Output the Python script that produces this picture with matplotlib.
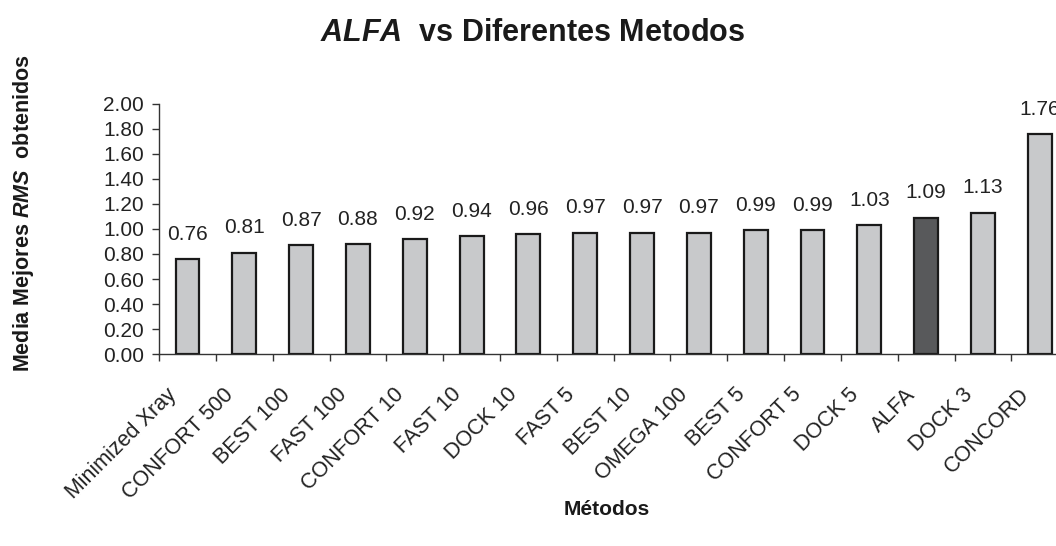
import numpy as np
import matplotlib
matplotlib.use("Agg")
from matplotlib import pyplot as plt
from matplotlib.ticker import FixedLocator, NullFormatter



# !Data
methods = ["Minimized Xray", "CONFORT 500", "BEST 100", "FAST 100", "CONFORT 10",
           "FAST 10", "DOCK 10", "FAST 5", "BEST 10", "OMEGA 100", "BEST 5",
           "CONFORT 5", "DOCK 5", "ALFA", "DOCK 3", "CONCORD"]
rms_mean = [0.76, 0.81, 0.87, 0.88, 0.92, 0.94, 0.96, 0.97, 0.97, 0.97, 0.99,
            0.99, 1.03, 1.09, 1.13, 1.76]
highlight = "ALFA"
y_ticks = [0.0, 0.2, 0.4, 0.6, 0.8, 1.0, 1.2, 1.4, 1.6, 1.8, 2.0]



# !Fonts: Arial-like, with the italic pieces drawn through mathtext
plt.rcParams['font.family'] = ['Liberation Sans', 'DejaVu Sans']
plt.rcParams['mathtext.fontset'] = 'custom'
plt.rcParams['mathtext.it'] = 'Liberation Sans:italic:bold'
plt.rcParams['mathtext.rm'] = 'Liberation Sans:bold'
plt.rcParams['mathtext.bf'] = 'Liberation Sans:bold'

light = "#c8c9cb"
dark = "#58595b"
ink = "#222222"
fs = 15

fig = plt.figure(figsize=(10.56, 5.46), dpi=100)
ax = fig.add_axes([0.1506, 0.3516, 0.861, 0.458])

x = np.arange(len(methods))
colors = [dark if m == highlight else light for m in methods]
ax.bar(x, rms_mean, width=0.42, color=colors, edgecolor="#1a1a1a", linewidth=1.6)

# value labels above the bars
for xi, v in zip(x, rms_mean):
    ax.annotate("%.2f" % v, (xi, v), xytext=(0, 14), textcoords="offset points",
                ha="center", va="baseline", fontsize=fs, color=ink)

# category labels, rotated like Excel does
for xi, name in zip(x, methods):
    ax.annotate(name, (xi, 0), xycoords=("data", "axes fraction"),
                xytext=(-10, -27), textcoords="offset points", rotation=45,
                rotation_mode="anchor", ha="right", va="center",
                fontsize=15.5, color=ink, annotation_clip=False)



# !Axes styling (Excel look)
ax.set_xlim(-0.5, len(methods) - 0.5)
ax.set_ylim(0, 2.0)
ax.set_yticks(y_ticks)
ax.set_yticklabels(["%.2f" % t for t in y_ticks], fontsize=fs, color=ink)
ax.tick_params(axis="y", length=5, width=1, color="#333333", pad=6)

ax.xaxis.set_major_locator(FixedLocator(np.arange(len(methods) + 1) - 0.5))
ax.xaxis.set_major_formatter(NullFormatter())
ax.tick_params(axis="x", which="major", length=5, width=1, color="#333333")

for s in ["top", "right"]:
    ax.spines[s].set_visible(False)
for s in ["left", "bottom"]:
    ax.spines[s].set_color("#333333")
    ax.spines[s].set_linewidth(1)



# !Titles
fig.text(0.504, 0.94, r"$\mathit{ALFA}$  vs Diferentes Metodos", ha="center", va="center",
         fontsize=22, fontweight="bold", color="#1a1a1a")
fig.text(0.022, 0.61, r"Media Mejores $\mathit{RMS}$  obtenidos", ha="center", va="center",
         rotation=90, fontsize=15.5, fontweight="bold", color="#1a1a1a")
fig.text(0.575, 0.066, "Métodos", ha="center", va="center",
         fontsize=15, fontweight="bold", color="#1a1a1a")

fig.savefig("out.png", dpi=100)
